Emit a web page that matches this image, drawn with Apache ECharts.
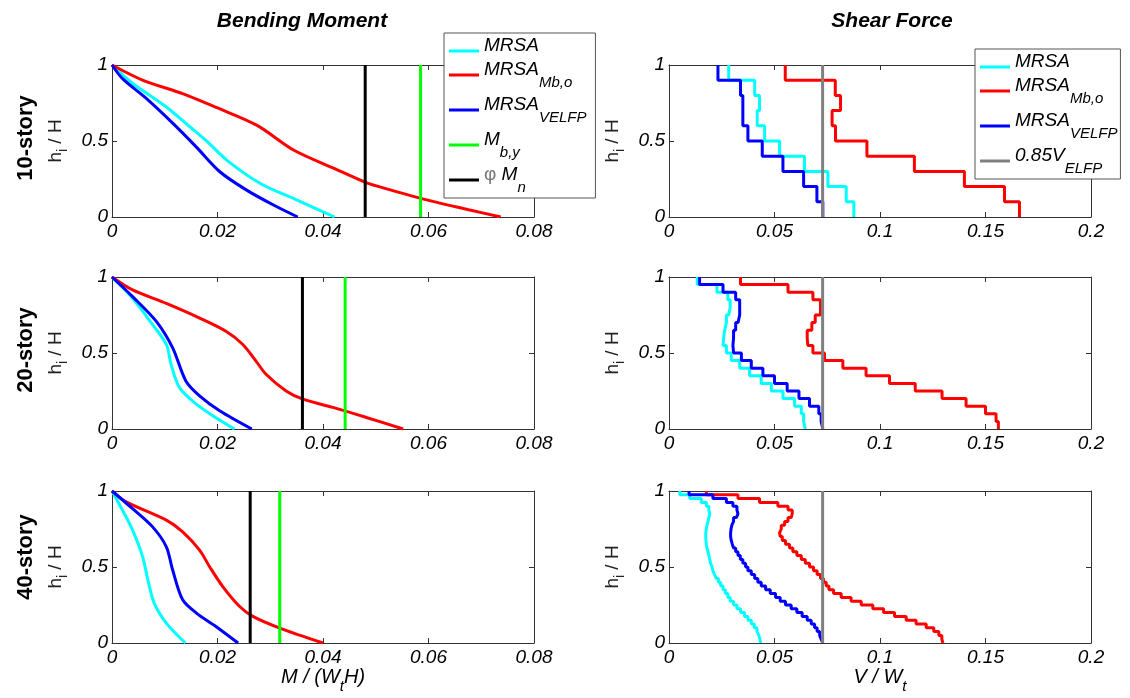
<!DOCTYPE html>
<html><head><meta charset="utf-8">
<script src="https://cdn.jsdelivr.net/npm/echarts@6/dist/echarts.min.js"></script>
<style>html,body{margin:0;padding:0;background:#fff}#c{width:1130px;height:698px}</style>
</head><body><div id="c"></div><script>
const FONT = '"Liberation Sans", Arial, sans-serif';
const rowLabels = ['10-story', '20-story', '40-story'];
const colTitles = ['Bending Moment', 'Shear Force'];

// Bending moment curves: [M/(Wt H), h/H]
const bmMRSA = [
  [[0,1],[0.0040,0.877],[0.0103,0.724],[0.0148,0.592],[0.0180,0.498],[0.0218,0.373],[0.0282,0.219],[0.0352,0.110],[0.0422,0]],
  [[0,1],[0.0039,0.86],[0.0077,0.686],[0.0103,0.556],[0.0112,0.425],[0.0128,0.272],[0.016,0.163],[0.0191,0.087],[0.0232,0]],
  [[0,1],[0.002,0.873],[0.0039,0.742],[0.0058,0.568],[0.0068,0.415],[0.008,0.262],[0.0103,0.131],[0.0139,0]]
];
const bmMbo = [
  [[0,1],[0.0059,0.899],[0.0135,0.81],[0.0199,0.719],[0.0275,0.603],[0.0345,0.439],[0.0422,0.318],[0.0479,0.23],[0.0504,0.202],[0.0587,0.121],[0.0676,0.048],[0.0737,0]],
  [[0,1],[0.0039,0.915],[0.0103,0.826],[0.0166,0.73],[0.0216,0.643],[0.0248,0.556],[0.0273,0.447],[0.0292,0.36],[0.033,0.25],[0.0362,0.196],[0.0419,0.142],[0.0482,0.076],[0.0552,0]],
  [[0,1],[0.0027,0.928],[0.0103,0.808],[0.0134,0.731],[0.0166,0.611],[0.0185,0.502],[0.021,0.371],[0.0242,0.24],[0.0267,0.175],[0.0318,0.098],[0.04,0]]
];
const bmVELFP = [
  [[0,1],[0.002,0.91],[0.0065,0.78],[0.0116,0.614],[0.016,0.46],[0.0205,0.296],[0.0256,0.175],[0.0307,0.077],[0.0352,0]],
  [[0,1],[0.0039,0.871],[0.0084,0.708],[0.0115,0.534],[0.014,0.316],[0.0166,0.218],[0.0204,0.12],[0.0265,0]],
  [[0,1],[0.0039,0.884],[0.0077,0.764],[0.0103,0.633],[0.0115,0.48],[0.0134,0.284],[0.016,0.197],[0.0197,0.109],[0.0239,0]]
];
const Mby = [0.0585, 0.0442, 0.0318];
const phiMn = [0.048, 0.0361, 0.0262];

// Shear force per story (top story first): V/Wt
const sfMRSA = [
  [0.0283,0.0406,0.0429,0.0418,0.0453,0.0524,0.0642,0.0753,0.084,0.0876],
  [0.0134,0.0227,0.0279,0.029,0.0283,0.0272,0.0264,0.0259,0.0256,0.0272,0.0295,0.0335,0.0382,0.0437,0.0485,0.054,0.0595,0.0627,0.0638,0.0646],
  [0.0051,0.0098,0.0153,0.0177,0.0189,0.0193,0.0189,0.0185,0.018,0.0177,0.0174,0.0174,0.0175,0.0177,0.018,0.0185,0.0189,0.0193,0.0197,0.0204,
   0.0208,0.0216,0.0224,0.0234,0.0245,0.0256,0.0267,0.0279,0.029,0.0306,0.0322,0.0339,0.0358,0.0374,0.039,0.0404,0.0417,0.0426,0.0431,0.0434]
];
const sfMbo = [
  [0.0551,0.0788,0.0813,0.0773,0.0789,0.0938,0.1163,0.14,0.159,0.1661],
  [0.0339,0.0564,0.0682,0.0718,0.0718,0.0693,0.0677,0.0655,0.0658,0.0682,0.0737,0.0824,0.0934,0.1045,0.1167,0.1294,0.1408,0.15,0.155,0.1561],
  [0.0177,0.0327,0.0429,0.0516,0.0564,0.0584,0.0579,0.0564,0.0548,0.0532,0.0524,0.0527,0.0537,0.0552,0.0571,0.0587,0.0606,0.0627,0.0646,0.0666,
   0.0685,0.0702,0.0718,0.0732,0.0745,0.0758,0.078,0.0816,0.0863,0.0911,0.0966,0.1017,0.1069,0.1124,0.1171,0.1219,0.1255,0.1279,0.1293,0.1298]
];
const sfVELFP = [
  [0.0232,0.0339,0.035,0.035,0.0374,0.0442,0.054,0.0638,0.0701,0.0729],
  [0.0145,0.0256,0.0316,0.0335,0.0335,0.0327,0.0316,0.0306,0.0303,0.0306,0.0343,0.039,0.0445,0.05,0.056,0.0616,0.0666,0.071,0.0721,0.0729],
  [0.0095,0.0208,0.0272,0.0303,0.0322,0.0327,0.0319,0.0306,0.0298,0.0294,0.0292,0.0292,0.0295,0.03,0.0306,0.0316,0.0327,0.0338,0.035,0.0363,
   0.0374,0.039,0.0406,0.0421,0.0437,0.0458,0.048,0.0505,0.0527,0.0552,0.0579,0.0606,0.0631,0.0655,0.0674,0.069,0.0702,0.0714,0.0721,0.0729]
];
const V085 = [0.0728, 0.0728, 0.0728];

const labelMap = {
  'MRSA': '{n|MRSA}',
  'MRSA_Mbo': '{n|MRSA}{s|Mb,o}',
  'MRSA_VELFP': '{n|MRSA}{s|VELFP}',
  'Mby': '{n|M}{s|b,y}',
  'phiMn': '{p|\u03C6 }{n|M}{s|n}',
  'V085': '{n|0.85V}{s|ELFP}'
};
const colors = {MRSA:'#00FFFF', MRSA_Mbo:'#FF0000', MRSA_VELFP:'#0000FF', Mby:'#00FF00', phiMn:'#000000', V085:'#808080'};

function steps(vals) {
  const n = vals.length, pts = [];
  vals.forEach((v, k) => { pts.push([v, 1 - k / n]); pts.push([v, 1 - (k + 1) / n]); });
  return pts;
}
function vline(v) { return [[v, 0], [v, 1]]; }

const tops = [65, 277, 491], lefts = [112, 669], W = 422, H = 152;
const grids = [], xAxes = [], yAxes = [], series = [];
const axisCol = '#333';
const tickFont = {fontFamily: FONT, fontSize: 19, fontStyle: 'italic', color: '#000'};

function addPanel(r, c) {
  const g = grids.length;
  grids.push({left: lefts[c], top: tops[r], width: W, height: H, outerBoundsMode: 'none', show: false});
  const xmax = c === 0 ? 0.08 : 0.2, xint = c === 0 ? 0.02 : 0.05;
  const base = {type: 'value', gridIndex: g, min: 0, max: xmax, interval: xint,
    axisLine: {show: true, onZero: false, lineStyle: {color: axisCol, width: 1}},
    axisTick: {show: true, inside: true, length: 5, lineStyle: {color: axisCol}},
    splitLine: {show: false}};
  const xb = Object.assign({}, base, {position: 'bottom', axisLabel: Object.assign({margin: 5}, tickFont)});
  if (r === 2) {
    xb.name = c === 0 ? '{n|M / (W}{s|t}{n|H)}' : '{n|V / W}{s|t}';
    xb.nameLocation = 'middle';
    xb.nameGap = 10;
    xb.nameTextStyle = {rich: {
      n: {fontFamily: FONT, fontSize: 20, fontStyle: 'italic', color: '#000', lineHeight: 26, verticalAlign: 'top'},
      s: {fontFamily: FONT, fontSize: 15, fontStyle: 'italic', color: '#000', lineHeight: 26, verticalAlign: 'bottom'}
    }};
  }
  xAxes.push(xb);
  xAxes.push(Object.assign({}, base, {position: 'top', axisLabel: {show: false}}));
  const ybase = {type: 'value', gridIndex: g, min: 0, max: 1, interval: 0.5,
    axisLine: {show: true, onZero: false, lineStyle: {color: axisCol, width: 1}},
    axisTick: {show: true, inside: true, length: 5, lineStyle: {color: axisCol}},
    splitLine: {show: false}};
  yAxes.push(Object.assign({}, ybase, {position: 'left', axisLabel: Object.assign({margin: 4}, tickFont),
    name: '{n|h}{s|i}{n| / H}', nameLocation: 'middle', nameGap: 42,
    nameTextStyle: {rich: {
      n: {fontFamily: FONT, fontSize: 19, color: '#222', lineHeight: 24, verticalAlign: 'top'},
      s: {fontFamily: FONT, fontSize: 14, color: '#222', lineHeight: 24, verticalAlign: 'bottom'}
    }}}));
  yAxes.push(Object.assign({}, ybase, {position: 'right', axisLabel: {show: false}}));
  return g;
}

function addSeries(g, name, data, z, smooth) {
  series.push({type: 'line', name: name, xAxisIndex: 2 * g, yAxisIndex: 2 * g, data: data,
    showSymbol: false, symbol: 'none', animation: false, z: z, smooth: smooth || false,
    lineStyle: {color: colors[name], width: 3}, itemStyle: {color: colors[name]}});
}

for (let r = 0; r < 3; r++) {
  const gL = addPanel(r, 0);
  addSeries(gL, 'MRSA', bmMRSA[r], 2, 0.3);
  addSeries(gL, 'MRSA_Mbo', bmMbo[r], 3, 0.3);
  addSeries(gL, 'MRSA_VELFP', bmVELFP[r], 4, 0.3);
  addSeries(gL, 'Mby', vline(Mby[r]), 5);
  addSeries(gL, 'phiMn', vline(phiMn[r]), 5);
  const gR = addPanel(r, 1);
  addSeries(gR, 'MRSA', steps(sfMRSA[r]), 2);
  addSeries(gR, 'MRSA_Mbo', steps(sfMbo[r]), 3);
  addSeries(gR, 'MRSA_VELFP', steps(sfVELFP[r]), 4);
  addSeries(gR, 'V085', vline(V085[r]), 5);
}

const legendText = {
  fontFamily: FONT, fontSize: 19, fontStyle: 'italic', color: '#000',
  rich: {
    n: {fontFamily: FONT, fontSize: 19, fontStyle: 'italic', color: '#000', lineHeight: 30, verticalAlign: 'top'},
    s: {fontFamily: FONT, fontSize: 15, fontStyle: 'italic', color: '#000', lineHeight: 30, verticalAlign: 'bottom'},
    p: {fontFamily: FONT, fontSize: 19, fontStyle: 'normal', color: '#777', lineHeight: 30, verticalAlign: 'top'}
  }
};
function legend(left, top, data, padR) {
  return {orient: 'vertical', left: left, top: top, data: data, icon: 'rect',
    itemWidth: 30, itemHeight: 3, itemGap: 5, padding: [3, padR, 3, 5],
    borderColor: '#555', borderWidth: 1, backgroundColor: '#fff', z: 20,
    selectedMode: false, formatter: name => labelMap[name], textStyle: legendText};
}

const graphics = [];
const titleX = [302, 892];
colTitles.forEach((t, i) => graphics.push({type: 'text', x: titleX[i], y: 21, z: 30,
  style: {text: t, font: 'italic bold 21px ' + FONT, fill: '#000', align: 'center', verticalAlign: 'middle', textAlign: 'center', textVerticalAlign: 'middle'}}));
const rowY = [138, 350, 557];
rowLabels.forEach((t, i) => graphics.push({type: 'text', x: 26, y: rowY[i], rotation: Math.PI / 2, z: 30,
  style: {text: t, font: 'bold 22px ' + FONT, fill: '#000', align: 'center', verticalAlign: 'middle', textAlign: 'center', textVerticalAlign: 'middle'}}));

const chart = echarts.init(document.getElementById('c'), null, {renderer: 'canvas'});
chart.setOption({
  animation: false,
  backgroundColor: '#fff',
  grid: grids, xAxis: xAxes, yAxis: yAxes, series: series,
  legend: [legend(444, 33, ['MRSA', 'MRSA_Mbo', 'MRSA_VELFP', 'Mby', 'phiMn'], 9),
           legend(975, 49, ['MRSA', 'MRSA_Mbo', 'MRSA_VELFP', 'V085'], 3)],
  graphic: graphics
});
</script></body></html>
